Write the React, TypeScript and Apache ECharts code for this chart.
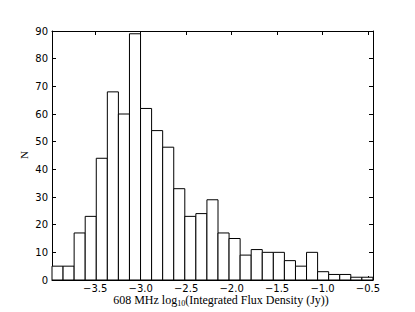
import React, { useEffect, useRef } from "react";
import * as echarts from "echarts";

// Histogram counts, one per bin (left to right)
const counts = [5, 5, 17, 23, 44, 68, 60, 89, 62, 54, 48, 33, 23, 24, 29, 17, 15, 9, 11, 10, 10, 7, 5, 10, 3, 2, 2, 1, 1];
const binStart = -3.975;
const binWidth = 0.1217;
const xTicks = [-3.5, -3.0, -2.5, -2.0, -1.5, -1.0, -0.5];
const xMin = -3.975;
const xMax = -0.445;
const yMin = 0;
const yMax = 90;
const yStep = 10;

const sans = "DejaVu Sans";
const serif = "Liberation Serif";

export default function App() {
  const ref = useRef<HTMLDivElement>(null);
  useEffect(() => {
    if (!ref.current) return;
    const chart = echarts.init(ref.current, null, { renderer: "svg" });
    const data = counts.map((c, i) => [binStart + i * binWidth, binStart + (i + 1) * binWidth, c]);
    const fmt = (v: number) => v.toFixed(1).replace("-", "\u2212");
    const axisLine = { show: true, onZero: false, lineStyle: { color: "#000", width: 1 } };
    chart.setOption({
      animation: false,
      backgroundColor: "#fff",
      grid: { left: 52, top: 31, right: 42, bottom: 32 },
      xAxis: [
        {
          type: "value",
          min: xMin,
          max: xMax,
          position: "bottom",
          axisLine,
          splitLine: { show: false },
          axisTick: { show: true, inside: true, length: 4, lineStyle: { color: "#000" }, customValues: xTicks },
          axisLabel: {
            show: true,
            customValues: xTicks,
            formatter: fmt,
            fontFamily: sans,
            fontSize: 10,
            color: "#000",
            margin: 3,
          },
        },
        {
          type: "value",
          min: xMin,
          max: xMax,
          position: "top",
          axisLine,
          splitLine: { show: false },
          axisTick: { show: true, inside: true, length: 4, lineStyle: { color: "#000" }, customValues: xTicks },
          axisLabel: { show: false },
        },
      ],
      yAxis: [
        {
          type: "value",
          min: yMin,
          max: yMax,
          interval: yStep,
          position: "left",
          axisLine,
          splitLine: { show: false },
          axisTick: { show: true, inside: true, length: 4, lineStyle: { color: "#000" } },
          axisLabel: { fontFamily: sans, fontSize: 10, color: "#000", margin: 4 },
        },
        {
          type: "value",
          min: yMin,
          max: yMax,
          interval: yStep,
          position: "right",
          axisLine,
          splitLine: { show: false },
          axisTick: { show: true, inside: true, length: 4, lineStyle: { color: "#000" } },
          axisLabel: { show: false },
        },
      ],
      graphic: [
        {
          type: "text",
          x: 24,
          y: 155,
          rotation: Math.PI / 2,
          style: {
            text: "N",
            align: "center",
            verticalAlign: "middle",
            fontFamily: serif,
            fontSize: 11,
            fill: "#000",
          },
        },
        {
          type: "text",
          x: 221,
          y: 300,
          style: {
            text: "{a|608 MHz log}{s|10}{a|(Integrated Flux Density (Jy))}",
            align: "center",
            verticalAlign: "middle",
            rich: {
              a: { fontFamily: serif, fontSize: 12, fill: "#000", lineHeight: 14 },
              s: { fontFamily: serif, fontSize: 8, fill: "#000", lineHeight: 8, verticalAlign: "bottom" },
            },
          },
        },
      ],
      series: [
        {
          type: "custom",
          xAxisIndex: 0,
          yAxisIndex: 0,
          data,
          renderItem: (params: any, api: any) => {
            const p0 = api.coord([api.value(0), api.value(2)]);
            const p1 = api.coord([api.value(1), 0]);
            return {
              type: "rect",
              shape: { x: p0[0], y: p0[1], width: p1[0] - p0[0], height: p1[1] - p0[1] },
              style: { fill: "#fff", stroke: "#000", lineWidth: 1 },
            };
          },
        },
      ],
    });
    return () => chart.dispose();
  }, []);
  return <div ref={ref} style={{ position: "absolute", left: 0, top: 0, width: 415, height: 312 }} />;
}
